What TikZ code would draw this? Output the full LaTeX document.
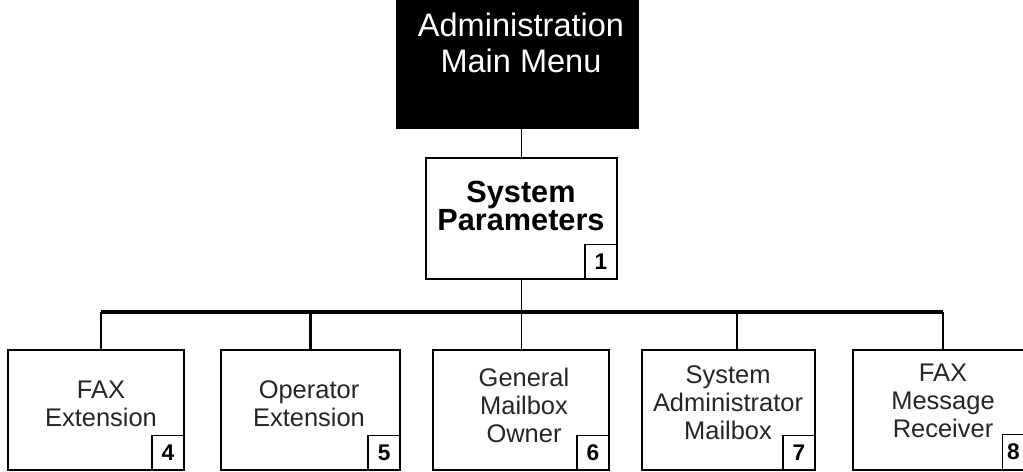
\documentclass[tikz,border=0pt]{standalone}
\usepackage{fontspec}
\setmainfont{Liberation Sans}
\newcommand{\tightlines}{\lineskiplimit=-20pt\relax}

\begin{document}
\begin{tikzpicture}[x=0.75pt, y=-0.75pt, thick]
    \useasboundingbox (0, 0) rectangle (1023, 471);

    % Define styles for boxes and lines
    \tikzstyle{menu} = [rectangle, draw=black, fill=black, minimum width=180.75pt, minimum height=96pt, inner sep=0pt]
    \tikzstyle{process} = [rectangle, draw=black, line width=1.1pt, minimum height=90pt, inner sep=0pt]
    \tikzstyle{number} = [rectangle, draw=black, line width=1.1pt, minimum width=24pt, minimum height=26pt, inner sep=0pt, anchor=south east, font={\bfseries\fontsize{17}{18}\selectfont}]
    \tikzstyle{title} = [align=center, text=white, font={\fontsize{24.4}{27}\selectfont}]
    \tikzstyle{heading} = [align=center, font={\bfseries\fontsize{23}{21.5}\selectfont\tightlines}]
    \tikzstyle{itemtext} = [align=center, text=black!85, font={\fontsize{19.1}{21}\selectfont\tightlines}]
    \tikzstyle{line} = [line width=1pt]
    \tikzstyle{heavy line} = [line width=1.7pt]
    \tikzstyle{bus} = [line width=3pt]

    % boxes
    \node (admin) [menu] at (517.5, 64) {};
    \node (sysparam) [process, minimum width=143.25pt, minimum height=90.75pt] at (521.5, 218.5) {};
    \node (faxext) [process, minimum width=132pt] at (96, 410) {};
    \node (opext) [process, minimum width=134.25pt, line width=1.4pt] at (310.5, 410) {};
    \node (genmbox) [process, minimum width=132pt] at (521, 410) {};
    \node (sysadmin) [process, minimum width=129.75pt] at (728.5, 410) {};
    \node (faxrecv) [process, minimum width=129pt] at (939, 410) {};

    % numbers
    \node (num1) [number] at (sysparam.south east) {1};
    \node (num4) [number] at (faxext.south east) {4};
    \node (num5) [number] at (opext.south east) {5};
    \node (num6) [number] at (genmbox.south east) {6};
    \node (num7) [number] at (sysadmin.south east) {7};
    \node (num8) [number, anchor=south west, minimum width=16pt] at (1002, 470) {8};

    % texts
    \node (admintext) [title] at (521, 43) {Administration\\Main Menu};
    \node (sptext) [heading] at (521, 206) {System\\Parameters};
    \node (faxexttext) [itemtext] at (101, 404) {FAX\\Extension};
    \node (opexttext) [itemtext] at (309, 404) {Operator\\Extension};
    \node (genmboxtext) [itemtext] at (524, 405) {General\\Mailbox\\Owner};
    \node (sysadmintext) [itemtext] at (728, 403) {System\\Administrator\\Mailbox};
    \node (faxrecvtext) [itemtext] at (943, 401) {FAX\\Message\\Receiver};

    % Lines
    \coordinate (busL) at (101, 312);
    \coordinate (busR) at (943, 312);
    \coordinate (drop4) at (737, 312);
    \draw [bus] (busL) -- (busR);
    \draw [line] (sysparam.north |- admin.south) -- (sysparam.north);
    \draw [line] (sysparam.south) -- (genmbox.north -| sysparam.south);
    \draw [line] (busL) -- (busL |- faxext.north);
    \draw [heavy line] (opext.north |- busL) -- (opext.north);
    \draw [heavy line] (drop4) -- (drop4 |- sysadmin.north);
    \draw [line] (busR) -- (busR |- faxrecv.north);
\end{tikzpicture}
\end{document}
